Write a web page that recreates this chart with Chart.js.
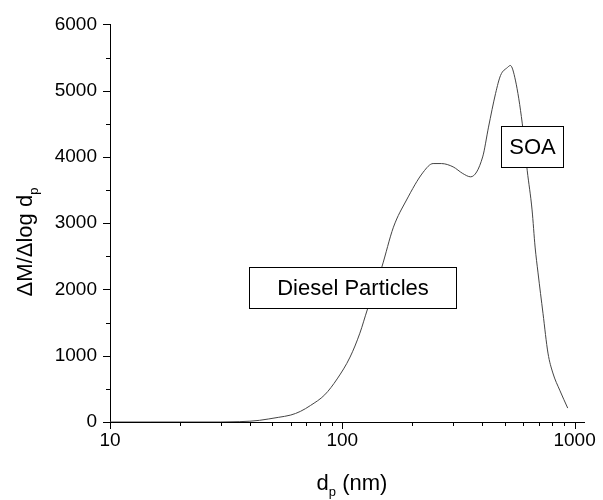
<!DOCTYPE html>
<html>
<head>
<meta charset="utf-8">
<script src="https://cdn.jsdelivr.net/npm/chart.js@4/dist/chart.umd.min.js"></script>
<style>
  html, body { margin: 0; padding: 0; background: #fff; }
  #wrap { width: 603px; height: 500px; }
</style>
</head>
<body>
<div id="wrap"><canvas id="sizeChart" width="603" height="500"></canvas></div>
<script>
// particle diameter (nm) and mass distribution
const diameters = [10, 15, 20, 30, 36, 40, 44, 48, 53, 60, 66, 73, 84, 95, 108, 119, 128, 148, 166, 189, 223, 246, 267, 300, 330, 357, 402, 426, 457, 480, 514, 529, 556, 595, 625, 656, 676, 696, 731, 768, 806, 863, 934];
const massDist  = [0, 0, 0, 0, 5, 12, 25, 45, 70, 105, 160, 250, 410, 650, 980, 1340, 1690, 2340, 2940, 3350, 3770, 3900, 3900, 3850, 3750, 3700, 4000, 4450, 4960, 5230, 5350, 5380, 5160, 4510, 3800, 3200, 2640, 2250, 1640, 1040, 740, 480, 210];

// axis ticks
const xMajor = [10, 100, 1000];
const xMinor = [20, 30, 40, 50, 60, 70, 80, 90, 200, 300, 400, 500, 600, 700, 800, 900];
const yMajor = [0, 1000, 2000, 3000, 4000, 5000, 6000];
const yMinor = [500, 1500, 2500, 3500, 4500, 5500];

// labelled boxes, in data units [xFrom, xTo, yFrom, yTo]
const boxLabels = ['Diesel Particles', 'SOA'];
const boxRanges = [[39.8, 308, 1719, 2337], [480, 889, 3844, 4462]];

const FONT = '"Liberation Sans", Arial, sans-serif';

// draws tick marks, label boxes and axis titles (with subscripts)
const decorPlugin = {
    id: 'decor',
    afterDatasetsDraw(chart) {
        const { ctx, scales: { x, y } } = chart;
        ctx.save();
        ctx.strokeStyle = '#000';
        ctx.lineWidth = 1;

        ctx.beginPath();
        xMajor.forEach(v => {
            const px = Math.round(x.getPixelForValue(v)) + 0.5;
            ctx.moveTo(px, y.bottom); ctx.lineTo(px, y.bottom + 7);
        });
        xMinor.forEach(v => {
            const px = Math.round(x.getPixelForValue(v)) + 0.5;
            ctx.moveTo(px, y.bottom); ctx.lineTo(px, y.bottom + 4);
        });
        yMajor.forEach(v => {
            const py = Math.round(y.getPixelForValue(v)) + 0.5;
            ctx.moveTo(x.left, py); ctx.lineTo(x.left - 7, py);
        });
        yMinor.forEach(v => {
            const py = Math.round(y.getPixelForValue(v)) + 0.5;
            ctx.moveTo(x.left, py); ctx.lineTo(x.left - 4, py);
        });
        ctx.stroke();

        // label boxes
        ctx.font = '22px ' + FONT;
        ctx.textAlign = 'center';
        ctx.textBaseline = 'middle';
        boxRanges.forEach((r, i) => {
            const x0 = Math.round(x.getPixelForValue(r[0])) + 0.5;
            const x1 = Math.round(x.getPixelForValue(r[1])) + 0.5;
            const y0 = Math.round(y.getPixelForValue(r[3])) + 0.5;
            const y1 = Math.round(y.getPixelForValue(r[2])) + 0.5;
            ctx.fillStyle = '#fff';
            ctx.fillRect(x0, y0, x1 - x0, y1 - y0);
            ctx.strokeRect(x0, y0, x1 - x0, y1 - y0);
            ctx.fillStyle = '#000';
            ctx.fillText(boxLabels[i], (x0 + x1) / 2, (y0 + y1) / 2 + 1);
        });

        // x title: d_p (nm)
        ctx.textAlign = 'left';
        ctx.textBaseline = 'alphabetic';
        const bigX = '22px ' + FONT, smallX = '13px ' + FONT;
        ctx.font = bigX;
        const wD = ctx.measureText('d').width;
        const wRest = ctx.measureText(' (nm)').width;
        ctx.font = smallX;
        const wP = ctx.measureText('p').width;
        let tx = 352 - (wD + wP + wRest) / 2;
        const ty = 490;
        ctx.font = bigX; ctx.fillText('d', tx, ty); tx += wD;
        ctx.font = smallX; ctx.fillText('p', tx, ty + 6); tx += wP;
        ctx.font = bigX; ctx.fillText(' (nm)', tx, ty);

        // y title: ΔM/Δlog d_p, rotated
        ctx.translate(32, 242);
        ctx.rotate(-Math.PI / 2);
        ctx.font = bigX;
        const wMain = ctx.measureText('\u0394M/\u0394log d').width;
        let sx = -(wMain + wP) / 2;
        ctx.fillText('\u0394M/\u0394log d', sx, 0); sx += wMain;
        ctx.font = smallX; ctx.fillText('p', sx, 6);
        ctx.restore();
    }
};

const points = diameters.map((d, i) => ({ x: d, y: massDist[i] }));

new Chart(document.getElementById('sizeChart'), {
    type: 'line',
    data: {
        datasets: [{
            data: points,
            borderColor: '#444',
            borderWidth: 1,
            pointRadius: 0,
            cubicInterpolationMode: 'monotone',
            fill: false
        }]
    },
    options: {
        responsive: false,
        animation: false,
        layout: { padding: { top: 24, right: 13, left: 0, bottom: 0 } },
        plugins: { legend: { display: false }, tooltip: { enabled: false } },
        scales: {
            x: {
                type: 'logarithmic',
                min: 10,
                max: 1100,
                afterBuildTicks: s => { s.ticks = xMajor.map(v => ({ value: v })); },
                afterFit: s => { s.height = 78; },
                grid: { display: false, drawTicks: false },
                border: { display: true, color: '#000', width: 1 },
                ticks: {
                    color: '#000',
                    font: { family: FONT, size: 19 },
                    padding: 7,
                    maxRotation: 0,
                    autoSkip: false,
                    callback: v => String(v)
                }
            },
            y: {
                min: 0,
                max: 6000,
                afterBuildTicks: s => { s.ticks = yMajor.map(v => ({ value: v })); },
                afterFit: s => { s.width = 110; },
                grid: { display: false, drawTicks: false },
                border: { display: true, color: '#000', width: 1 },
                ticks: {
                    color: '#000',
                    font: { family: FONT, size: 19 },
                    padding: 13,
                    callback: v => String(v)
                }
            }
        }
    },
    plugins: [decorPlugin]
});
</script>
</body>
</html>
